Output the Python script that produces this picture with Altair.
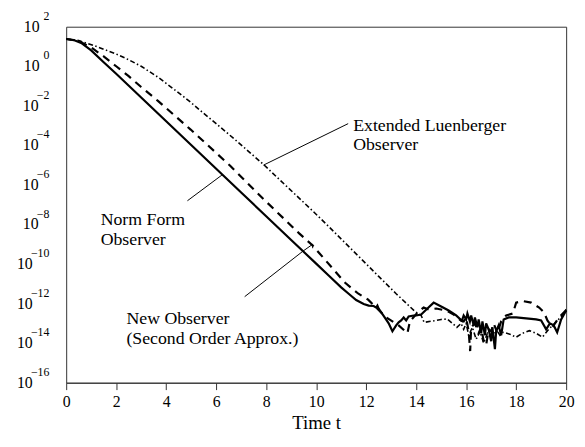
import altair as alt
import pandas as pd

# ---- data (time t, log10 of the error) ----
t_norm = [0, 0.3, 0.6, 1.0, 1.5, 2.0, 3.0, 4.0, 5.0, 6.0, 7.0, 8.0, 9.0, 10.0, 10.5, 11.0,
          11.3, 11.6, 11.9, 12.1, 12.3, 12.4, 12.45, 12.5, 12.74, 12.9, 13.05, 13.2, 13.3,
          13.4, 13.5, 13.6, 13.7, 13.9, 14.0, 14.2, 14.45, 14.7, 15.0, 15.3, 15.6, 15.83,
          15.9, 16.0, 16.05, 16.15, 16.2, 16.3, 16.35, 16.45, 16.5, 16.6, 16.65, 16.75, 16.8,
          16.9, 17.0, 17.05, 17.15, 17.2, 17.3, 17.4, 17.5, 17.7, 18.0, 18.4, 18.8, 19.0,
          19.2, 19.35, 19.5, 19.64, 19.8, 20.0]
e_norm = [1.38, 1.33, 1.18, 0.8, 0.2, -0.38, -1.58, -2.78, -3.98, -5.18, -6.38, -7.58, -8.78,
          -9.98, -10.58, -11.18, -11.5, -11.82, -12.02, -12.1, -12.12, -12.2, -12.1, -12.25,
          -12.7, -13.0, -13.4, -13.1, -12.95, -12.85, -12.7, -12.85, -12.65, -12.6, -12.6,
          -12.55, -12.25, -11.95, -12.15, -12.35, -12.6, -12.87, -12.6, -12.8, -12.5, -12.9,
          -12.6, -13.1, -12.7, -13.2, -12.8, -13.5, -12.9, -13.6, -13.0, -13.3, -13.9, -13.2,
          -14.3, -13.4, -13.1, -13.6, -12.8, -12.7, -12.7, -12.75, -12.8, -12.85, -13.3,
          -13.0, -13.1, -13.45, -12.8, -12.35]

t_new = [0, 0.5, 1.0, 1.5, 2.0, 2.5, 3.0, 3.67, 4.98, 6.56, 7.88, 9.32, 9.85, 11.16, 11.69,
         12.08, 12.4, 12.8, 13.3, 13.65, 13.75, 14.06, 14.3, 14.5, 14.8, 15.2, 15.5, 15.8,
         15.9, 16.0, 16.1, 16.16, 16.2, 16.35, 16.5, 16.6, 16.7, 16.8, 16.9, 17.0, 17.1,
         17.25, 17.4, 17.6, 17.87, 18.0, 18.27, 18.6, 18.92, 19.12, 19.25, 19.45, 19.71,
         19.97, 20.0]
e_new = [1.38, 1.28, 0.95, 0.5, 0.0, -0.5, -1.05, -1.75, -3.2, -5.03, -6.7, -8.45, -9.05,
         -10.95, -11.5, -11.8, -12.2, -12.7, -13.1, -13.5, -12.9, -12.45, -12.2, -12.3,
         -12.25, -12.35, -12.55, -12.87, -12.9, -12.7, -13.4, -14.4, -13.2, -13.0, -13.5,
         -13.2, -13.9, -14.1, -13.3, -13.4, -13.0, -13.5, -12.9, -12.6, -12.5, -11.95,
         -11.87, -11.95, -12.2, -12.45, -12.85, -13.2, -12.7, -12.37, -12.5]

t_ext = [0, 0.5, 1.04, 1.5, 2.0, 2.5, 3.0, 3.67, 4.3, 4.98, 5.5, 6.0, 6.82, 7.88, 8.8, 9.85,
         10.5, 11.69, 12.48, 13.2, 13.93, 14.2, 14.32, 14.71, 15.0, 15.24, 15.45, 15.63,
         15.8, 15.9, 16.0, 16.1, 16.25, 16.4, 16.55, 16.7, 16.85, 17.0, 17.2, 17.35, 17.48,
         17.75, 18.0, 18.25, 18.53, 18.8, 19.05, 19.3, 19.58, 19.85, 20.0]
e_ext = [1.38, 1.3, 1.08, 0.86, 0.62, 0.33, 0.0, -0.55, -1.15, -1.82, -2.38, -2.9, -3.78,
         -4.95, -6.05, -7.3, -8.1, -9.6, -10.6, -11.5, -12.37, -12.6, -12.95, -12.87, -12.8,
         -12.78, -13.0, -13.2, -13.0, -13.3, -13.0, -13.6, -13.2, -13.8, -13.4, -14.0, -13.5,
         -13.7, -13.3, -13.6, -13.45, -13.55, -13.7, -13.5, -13.37, -13.5, -13.7, -13.3,
         -12.95, -12.6, -12.3]

x_ticks = list(range(0, 21))
y_exps = [2, 0, -2, -4, -6, -8, -10, -12, -14, -16]

# annotation labels (block centre in data coordinates: t, log10)
ann_text = ["Extended Luenberger\nObserver", "Norm Form\nObserver",
            "New Observer\n(Second Order Approx.)"]
ann_t = [11.48, 1.38, 2.41]
ann_e = [-3.0, -7.8, -12.8]

# pointer lines
ptr_id = ["ext", "ext", "norm", "norm", "new", "new", "new", "new"]
ptr_t = [11.28, 7.89, 4.85, 6.23, 7.14, 9.47, 9.86, 9.86]
ptr_e = [-2.9, -5.0, -6.8, -5.5, -11.65, -9.35, -9.0, -9.2]

FONT = "Liberation Serif"

rows = []
for name, ts, es in [("norm", t_norm, e_norm), ("new", t_new, e_new), ("ext", t_ext, e_ext)]:
    for t, e in zip(ts, es):
        rows.append({"series": name, "t": t, "v": 10.0 ** e})
df = pd.DataFrame(rows)

ptr_df = pd.DataFrame({"id": ptr_id, "t": ptr_t, "v": [10.0 ** e for e in ptr_e],
                       "k": list(range(len(ptr_id)))})
txt_df = pd.DataFrame({"t": ann_t, "v": [10.0 ** e for e in ann_e], "text": ann_text})
lab_df = pd.DataFrame({"e": y_exps, "v": [10.0 ** e for e in y_exps],
                       "sup": [str(e).replace("-", "\u2212") for e in y_exps]})

xscale = alt.Scale(domain=[0, 20], nice=False, zero=False)
yscale = alt.Scale(type="log", domain=[1e-16, 1e2], nice=False)

x_enc = alt.X("t:Q", scale=xscale, axis=alt.Axis(
    values=x_ticks, title="Time t",
    labelExpr="datum.value % 2 === 0 ? datum.label : ''",
    tickSize={"condition": {"test": "datum.value % 2 === 0", "value": 7}, "value": 4},
    labelPadding=4, titleY=46, titleBaseline="alphabetic",
    grid=False, labelFlush=False))
y_enc = alt.Y("v:Q", scale=yscale, axis=alt.Axis(
    values=[10.0 ** e for e in y_exps], labels=False, tickSize=6, title=None, grid=False))

base = alt.Chart(df).encode(x=x_enc, y=y_enc)
solid = base.transform_filter(alt.datum.series == "norm").mark_line(
    color="black", strokeWidth=2.2)
dashed = base.transform_filter(alt.datum.series == "new").mark_line(
    color="black", strokeWidth=2.2, strokeDash=[8, 6])
dashdot = base.transform_filter(alt.datum.series == "ext").mark_line(
    color="black", strokeWidth=1.6, strokeDash=[5, 2.5, 1.5, 2.5])

ptr = alt.Chart(ptr_df).mark_line(color="black", strokeWidth=1).encode(
    x=alt.X("t:Q", scale=xscale), y=alt.Y("v:Q", scale=yscale),
    detail="id:N", order="k:Q")

ann = alt.Chart(txt_df).mark_text(
    align="left", baseline="middle", font=FONT, fontSize=18, color="black",
    lineBreak="\n", lineHeight=20).encode(
    x=alt.X("t:Q", scale=xscale), y=alt.Y("v:Q", scale=yscale), text="text:N")

lab_base = alt.Chart(lab_df).encode(y=alt.Y("v:Q", scale=yscale, axis=None))
ten_a = lab_base.transform_filter(alt.datum.e >= 0).mark_text(
    align="right", baseline="middle", font=FONT, fontSize=16, color="black").encode(
    x=alt.value(-27), text=alt.value("10"))
ten_b = lab_base.transform_filter((alt.datum.e < 0) & (alt.datum.e > -10)).mark_text(
    align="right", baseline="middle", font=FONT, fontSize=16, color="black").encode(
    x=alt.value(-28), text=alt.value("10"))
ten_c = lab_base.transform_filter(alt.datum.e <= -10).mark_text(
    align="right", baseline="middle", font=FONT, fontSize=16, color="black").encode(
    x=alt.value(-34), text=alt.value("10"))
sup = lab_base.mark_text(
    align="right", baseline="middle", font=FONT, fontSize=12, color="black", dy=-11).encode(
    x=alt.value(-17), text="sup:N")

chart = alt.layer(dashdot, dashed, solid, ptr, ann, ten_a, ten_b, ten_c, sup).properties(
    width=507, height=361,
    autosize=alt.AutoSizeParams(type="none"),
    padding={"left": 59, "top": 16, "right": 11, "bottom": 47},
).configure_view(stroke="#333", strokeWidth=1).configure_axis(
    domainColor="#333", tickColor="#333", labelFont=FONT, labelFontSize=16,
    labelColor="black", titleFont=FONT, titleFontSize=19, titleFontWeight="normal",
    titleColor="black", domainWidth=1, tickWidth=1)

chart.save("out.html", embed_options={"renderer": "svg", "actions": False})
